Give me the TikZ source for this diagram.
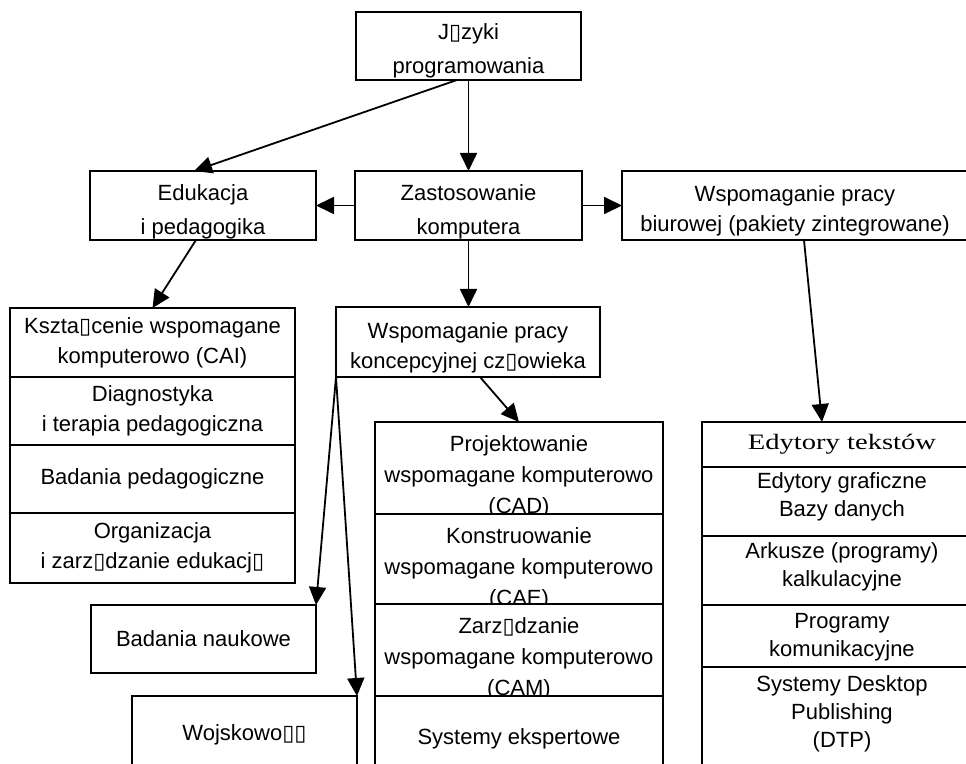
\documentclass[tikz,border=0pt]{standalone}
\usepackage{fontspec}
\usepackage{graphicx}
\setmainfont{Liberation Sans}
\newfontfamily\boxfont{DejaVu Sans}
\newfontfamily\timesfont{Liberation Serif}
\newcommand\nochar{{\boxfont ▯}}
\usetikzlibrary{arrows.meta}

\begin{document}
\begin{tikzpicture}[x=0.5pt, y=-0.5pt, ->, >={Triangle[length=9pt, width=8.5pt]}, line width=0.9pt,
	box/.style={draw, black, line width=1pt, fill=white, anchor=north west, inner sep=0pt, outer sep=0pt, align=center, font=\fontsize{11}{15}\selectfont},
	txt/.style={anchor=north, inner sep=0pt, align=center, font=\fontsize{11}{15}\selectfont},
	wide/.style={txt, font=\fontsize{11}{17}\selectfont},
	stack/.style={txt, font=\fontsize{11}{15.5}\selectfont},
	tight/.style={txt, font=\fontsize{11}{14}\selectfont}]
	\path[use as bounding box, clip] (0,0) rectangle (966,764);
	
	% top levels
	\node[box, minimum width=112.5pt, minimum height=34pt, label={[wide, yshift=-5.5pt]north:{J\nochar zyki\\programowania}}] (jezyki) at (356,12) {};
	\node[box, minimum width=113pt, minimum height=34.5pt, label={[wide, yshift=-6.5pt]north:{Edukacja\\i pedagogika}}] (edukacja) at (90,171) {};
	\node[box, minimum width=113.5pt, minimum height=34.5pt, label={[wide, yshift=-6.5pt]north:{Zastosowanie\\komputera}}] (zastos) at (355,171) {};
	\node[box, minimum width=173pt, minimum height=34.5pt, label={[txt, yshift=-7pt]north:{Wspomaganie pracy\\biurowej (pakiety zintegrowane)}}] (biuro) at (622,171) {};
	
	% education column
	\node[box, minimum width=142.5pt, minimum height=34.5pt] (ksztal) at (10,308) {Kszta\nochar cenie wspomagane\\komputerowo (CAI)};
	\node[box, minimum width=142.5pt, minimum height=34pt] (diagn) at (10,377) {Diagnostyka\\i terapia pedagogiczna};
	\node[box, minimum width=142.5pt, minimum height=34pt] (badped) at (10,445) {Badania pedagogiczne};
	\node[box, minimum width=142.5pt, minimum height=35pt] (organ) at (10,513) {Organizacja\\i zarz\nochar dzanie edukacj\nochar};
	
	% conceptual work
	\node[box, minimum width=132pt, minimum height=35pt, label={[txt, yshift=-7.5pt]north:{Wspomaganie pracy\\koncepcyjnej cz\nochar owieka}}] (koncep) at (336,307) {};
	\node[box, minimum width=112.5pt, minimum height=34pt] (naukowe) at (91,605) {Badania naukowe};
	\node[box, minimum width=112.5pt, minimum height=50pt, label={[txt, yshift=-14pt]north:Wojskowo\nochar\nochar}] (wojsk) at (132,696) {};
	
	\node[box, minimum width=144pt, minimum height=46pt, label={[stack, yshift=-6.5pt]north:{Projektowanie\\wspomagane komputerowo\\(CAD)}}] (cad) at (375,422) {};
	\node[box, minimum width=144pt, minimum height=45pt, label={[stack, yshift=-6.5pt]north:{Konstruowanie\\wspomagane komputerowo\\(CAE)}}] (cae) at (375,514) {};
	\node[box, minimum width=144pt, minimum height=46pt, label={[stack, yshift=-6.5pt]north:{Zarz\nochar dzanie\\wspomagane komputerowo\\(CAM)}}] (cam) at (375,604) {};
	\node[box, minimum width=144pt, minimum height=50pt, label={[txt, yshift=-16pt]north:Systemy ekspertowe}] (sysexp) at (375,696) {};
	
	% office work
	\node[box, minimum width=140pt, minimum height=22.5pt] (edtekst) at (702,422) {\scalebox{1.3}[1]{\timesfont\fontsize{11}{13}\selectfont Edytory tekstów}};
	\node[box, minimum width=140pt, minimum height=34.5pt, label={[tight, yshift=-2.5pt]north:{Edytory graficzne\\Bazy danych}}] (edgraf) at (702,467) {};
	\node[box, minimum width=140pt, minimum height=34.5pt, label={[tight, yshift=-3pt]north:{Arkusze (programy)\\kalkulacyjne}}] (arkusze) at (702,536) {};
	\node[box, minimum width=140pt, minimum height=31pt, label={[tight, yshift=-3.5pt]north:{Programy\\komunikacyjne}}] (progkom) at (702,605) {};
	\node[box, minimum width=140pt, minimum height=55pt, label={[tight, yshift=-4pt]north:{Systemy Desktop\\Publishing\\(DTP)}}] (dtp) at (702,667) {};
	
	\path (jezyki) edge (zastos);
	\path (zastos) edge (edukacja);
	\path (zastos) edge (biuro);
	
	\draw ([xshift=-5.75pt]jezyki.south) -> ([xshift=-4.5pt]edukacja.north);
	\draw ([xshift=-3.5pt]edukacja.south) -> (ksztal.north);
	\draw (zastos.south) -> (zastos.south |- koncep.north);
	\draw ([xshift=6pt]koncep.south) -> (cad.north);
	\draw ([xshift=4.5pt]biuro.south) -> ([xshift=-10pt]edtekst.north);
	
	\draw (koncep.south west) -> (naukowe.north east);
	\draw (koncep.south west) -> (wojsk.north east);
	
\end{tikzpicture}
\end{document}
